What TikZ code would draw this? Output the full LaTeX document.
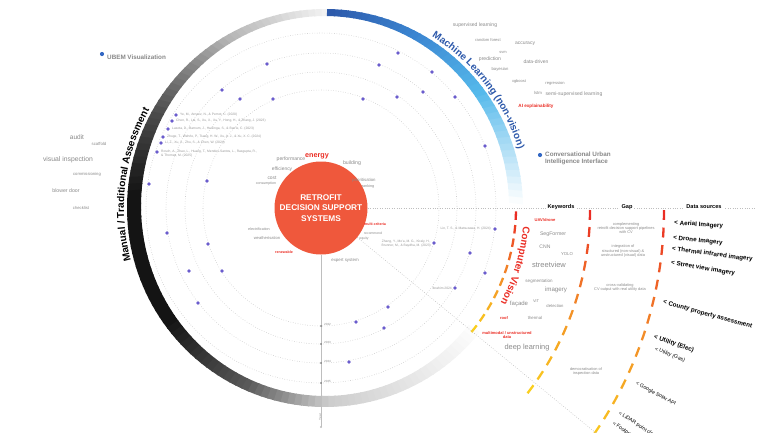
\documentclass[tikz,border=0pt]{standalone}
\usepackage{fontspec}
\setmainfont{Liberation Sans}
\usepackage{xcolor}
\definecolor{kwgray}{RGB}{138,138,138}
\definecolor{citegray}{RGB}{150,150,150}
\definecolor{appgray}{RGB}{135,135,135}
\definecolor{guidegray}{RGB}{190,190,190}
\definecolor{ringgray}{RGB}{195,195,195}
\definecolor{rdsred}{RGB}{239,88,60}
\definecolor{cvred}{RGB}{234,45,36}
\definecolor{cvorange}{RGB}{242,140,40}
\definecolor{cvyellow}{RGB}{250,206,30}
\definecolor{mlblue}{RGB}{44,88,170}
\definecolor{mlmid}{RGB}{60,135,210}
\definecolor{mlcyan}{RGB}{85,185,235}
\definecolor{pubdot}{RGB}{106,92,205}
\definecolor{appdot}{RGB}{52,104,196}
\usetikzlibrary{calc}
\usetikzlibrary{decorations.text}

\newcommand\fsz[2]{\fontsize{#1}{#2}\selectfont}

\begin{document}
\begin{tikzpicture}[x=1pt,y=-1pt,
    kw/.style={inner sep=0pt,text=kwgray,font=\fsz{#1}{#1}},
    kwhot/.style={inner sep=0pt,text=cvred,font=\bfseries\fsz{#1}{#1}},
    gaptext/.style={inner sep=0pt,text=kwgray,align=center,font=\fsz{3.9}{4.4}},
    colhead/.style={fill=white,inner xsep=2pt,inner ysep=1pt,font=\bfseries\fsz{5.6}{6}},
    source/.style={inner sep=0pt,anchor=west,font=\bfseries\fsz{6.3}{7}},
    sourcelt/.style={inner sep=0pt,anchor=west,font=\fsz{5.2}{6}},
    cite/.style={inner sep=0pt,text=citegray,align=left,font=\fsz{3.3}{3.9}},
    pub/.style={circle,fill=pubdot,inner sep=0pt,minimum size=3.6pt},
    app/.style={circle,fill=appdot,inner sep=0pt,minimum size=4.2pt},
    apptext/.style={inner sep=0pt,anchor=west,text=appgray,align=left,font=\bfseries\fsz{6.3}{7.3}},
    ringline/.style={draw=ringgray,line width=0.55pt,dash pattern=on 0.55pt off 1.9pt},
    guide/.style={draw=guidegray,line width=0.45pt},
    guidedot/.style={draw=guidegray,line width=0.5pt,dash pattern=on 0.8pt off 1.6pt}
  ]
  \clip (0,0) rectangle (768,432);
  \useasboundingbox (0,0) rectangle (768,432);

  \coordinate (c) at (321,208);

  % outer ring: grey (manual) and blue (ML) parts
  \foreach \a in {89,91,...,319}{
    \pgfmathsetmacro\k{(\a<120) ? 5+25*(\a-89)/31 : ((\a<150) ? 30+40*(\a-120)/30 : ((\a<175) ? 70+22*(\a-150)/25 : ((\a<215) ? 92 : ((\a<245) ? 92-27*(\a-215)/30 : ((\a<270) ? 65-45*(\a-245)/25 : ((\a<295) ? 20-10*(\a-270)/25 : 10-9*(\a-295)/25))))))}
    \fill[fill=black!\k!white] ({325+198*cos(\a)},{208-199*sin(\a)}) -- ({325+198*cos(\a+2.4)},{208-199*sin(\a+2.4)})
      -- ({325+184*cos(\a+2.4)},{206-190*sin(\a+2.4)}) -- ({325+184*cos(\a)},{206-190*sin(\a)}) -- cycle;
  }
  \foreach \a in {1,3,...,87}{
    \ifnum\a<35 \pgfmathsetmacro\p{100*\a/35}\def\bc{mlcyan!\p!white}%
    \else\ifnum\a<60 \pgfmathsetmacro\p{100*(\a-35)/25}\def\bc{mlmid!\p!mlcyan}%
    \else \pgfmathsetmacro\p{100*(\a-60)/28}\def\bc{mlblue!\p!mlmid}\fi\fi
    \fill[fill=\bc] ({325+198*cos(\a)},{208-199*sin(\a)}) -- ({325+198*cos(\a+2.4)},{208-199*sin(\a+2.4)})
      -- ({325+184*cos(\a+2.4)},{206-190*sin(\a+2.4)}) -- ({325+184*cos(\a)},{206-190*sin(\a)}) -- cycle;
  }

  % dashed CV arcs: ring, gap, data sources
  \foreach \cx/\cy/\r/\st/\n/\per/\len in {321/208/195/1/9/4/2.5, 290/210/300/0/11/3.25/1.9, 270/210/394/0/14/2.55/1.45}{
    \foreach \i in {0,...,\n}{
      \pgfmathsetmacro\s{\st+\per*\i}
      \pgfmathsetmacro\f{\i/\n}
      \ifdim\f pt<0.5pt \pgfmathsetmacro\p{200*\f}\def\dc{cvorange!\p!cvred}%
      \else \pgfmathsetmacro\p{200*(\f-0.5)}\def\dc{cvyellow!\p!cvorange}\fi
      \draw[color=\dc,line width=2.3pt] ({\cx+\r*cos(\s)},{\cy+\r*sin(\s)}) arc[start angle=\s,end angle=\s+\len,radius=\r];
    }
  }

  % dotted rings
  \foreach \r in {118,136,155,175}
    \draw[ringline] (c) circle[radius=\r];

  \node[circle,fill=rdsred,minimum size=93pt,inner sep=0pt,text=white,align=center,
    font=\bfseries\fsz{8.3}{10.3}] (rds) at (c) {RETROFIT\\DECISION SUPPORT\\SYSTEMS};

  % guide lines
  \coordinate (timeend) at (321,427);
  \coordinate (headend) at (756,208);
  \coordinate (diagend) at ($(c)+(39.3:420)$);
  \draw[guide] (rds.south) -- (timeend);
  \fill[guidegray] (timeend) circle[radius=1.2];
  \draw[guidedot] (rds.east) -- (headend);
  \draw[guidedot] (rds.-39.3) -- (diagend);

  % arc titles
  \path[decorate,decoration={text along path,text align=center,
    text={|\bfseries\fsz{10}{10}\color{black}|Manual / Traditional Assessment}}]
    ({325+201*cos(203)},{208-201*sin(203)}) arc[start angle=-203,end angle=-143,radius=201];
  \path[decorate,decoration={text along path,text align=center,
    text={|\bfseries\fsz{10}{10}\color{mlblue}|Machine Learning (non-vision)}}]
    ({325+202*cos(60)},{208-202*sin(60)}) arc[start angle=-60,end angle=-15,radius=202];
  \path[decorate,decoration={text along path,text align=center,
    text={|\bfseries\fsz{10}{10}\color{cvred}|Computer Vision}}]
    ({321+203*cos(2)},{208+203*sin(2)}) arc[start angle=2,end angle=31,radius=203];

  % applications
  \node[app] (ubemdot) at (102,54) {};
  \node[apptext] (ubem) at (107,57) {UBEM Visualization};
  \node[app] (cuiidot) at (540,155) {};
  \node[apptext] (cuii) at (545,158.7) {Conversational Urban\\Intelligence Interface};

  % manual keywords
  \foreach \x/\y/\s/\t [count=\i] in {77/137/6.5/audit, 99/144/4.3/scaffold,
      68/160/6.8/visual inspection, 87/174/4.2/commissioning, 66/191/5.2/blower door,
      81/208/4.2/checklist}
    \node[kw=\s] (man\i) at (\x,\y) {\t};

  % ML keywords
  \foreach \x/\y/\s/\t [count=\i] in {475/25/5.1/supervised learning, 488/40/4.1/random forest,
      525/44/5/accuracy, 503/52/4/svm, 490/59/5.1/prediction, 536/62/5/data-driven,
      500/69/4.2/bayesian, 519/81/4/xgboost, 555/83/4.1/regression, 538/93/4.3/lstm,
      574/94/5.1/semi-supervised learning}
    \node[kw=\s] (ml\i) at (\x,\y) {\t};
  \node[kwhot=4.6] (mlxai) at (536,106) {AI explainability};

  % retrofit keywords
  \node[kwhot=7.2] (energy) at (317,156) {energy};
  \foreach \x/\y/\s/\t [count=\i] in {291/159/5.1/performance, 352/163/5.2/building,
      282/169/4.9/efficiency, 272/178/4.9/cost, 266/184/3.6/consumption,
      364/180/4.3/prioritisation, 368/187/3.8/ranking, 259/229/3.7/electrification,
      267/238/4.1/weatherisation, 373/233/3.4/recommend, 364/239/3.4/equity,
      345/261/4.4/expert system}
    \node[kw=\s] (rk\i) at (\x,\y) {\t};
  \node[kwhot=3.6] (renew) at (284,252) {renewable};
  \node[kwhot=3.6] (mcda) at (375,224) {multi-criteria};

  % CV keywords
  \node[kwhot=4.1] (uav) at (545,220) {UAV/drone};
  \foreach \x/\y/\s/\t [count=\i] in {553/234/5.2/SegFormer, 545/247/5.1/CNN, 567/254/4.3/YOLO,
      549/265/7.5/streetview, 539/281/4.5/segmentation, 556/290/6.2/imagery,
      519/304/6/façade, 536/301/4/ViT, 555/306/4.2/detection, 535/318/4.3/thermal/infrared,
      527/348/7.4/deep learning}
    \node[kw=\s] (cv\i) at (\x,\y) {\t};
  \node[kwhot=4] (roof) at (504,318) {roof};
  \node[kwhot=4,align=center] (multi) at (507,335) {multimodal / unstructured\\data};

  % column heads
  \node[colhead] (hkey) at (561,207) {Keywords};
  \node[colhead] (hgap) at (627,207) {Gap};
  \node[colhead] (hdata) at (704,207) {Data sources};

  % gaps
  \node[gaptext] (gap1) at (626,228) {complementing\\retrofit decision support pipelines\\with CV};
  \node[gaptext] (gap2) at (623,251) {integration of\\structured (non-visual) \&\\unstructured (visual) data};
  \node[gaptext] (gap3) at (620,287.5) {cross-validating\\CV output with real utility data};
  \node[gaptext] (gap4) at (586,371.5) {democratisation of\\inspection data};

  % data sources
  \node[source,rotate=-4] (src1) at (674,223) {< Aerial Imagery};
  \node[source,rotate=-6] (src2) at (673,238) {< Drone Imagery};
  \node[source,rotate=-7.5] (src3) at (672,249) {< Thermal infrared imagery};
  \node[source,rotate=-9.5] (src4) at (671,263) {< Street view imagery};
  \node[source,rotate=-15.7] (src5) at (663,302) {< County property assessment};
  \node[source,rotate=-19] (src6) at (654,337) {< Utility (Elec)};
  \node[sourcelt,rotate=-21] (src7) at (655,349) {< Utility (Gas)};
  \node[sourcelt,rotate=-28.5] (src8) at (636,383) {< Google Solar API};
  \node[sourcelt,rotate=-33] (src9) at (619,413) {< LiDAR point cloud};
  \node[sourcelt,rotate=-35] (src10) at (613,423) {< Footprints};

  % references on the rings
  \foreach \x/\y/\t [count=\i] in {
      176/115/{Ye, M., Arnaez, N., \& Pernot, C. (2020)},
      172/121/{Chen, R., Lai, S., Xu, X., Xu, Y., Hong, H., \& Zhang, J. (2023)},
      168/129/{Lasota, D., Barnum, J., Heslinga, S., \& Barrie, C. (2023)},
      163/137/{Zhuge, T., Wehrle, P., Tsang, H. W., Xu, A. J., \& Xu, X. C. (2024)},
      161/143/{Li, Z., Xu, X., Zhu, S., \& Chen, W. (2024)},
      157/152/{Rosch, A., Zhao, L., Huang, T., Mendes-Santos, L., Rasgupta, R.,\\\& Thomas, M. (2025)}}
    {
      \node[pub] (lp\i) at (\x,\y) {};
      \node[cite,anchor=north west] (lc\i) at (\x+4,\y-1.8) {\t};
    }
  \node[pub] (rp1) at (434,243) {};
  \node[cite,align=center,anchor=east] (rc1) at (431,244) {Zhang, Y., Mo'a, M. G., Kiraly, H.,\\Brunner, M., \& Baydha, M. (2023)};
  \node[pub] (rp2) at (495,229) {};
  \node[cite,anchor=east] (rc2) at (491,229) {Lin, T. S., \& Matsuzawa, H. (2024)};
  \node[pub] (rp3) at (455,288) {};
  \node[cite,anchor=east] (rc3) at (452,288) {Ibrahim 2024};

  \foreach \x/\y [count=\i] in {267/64, 398/53, 379/65, 222/90, 240/99, 273/99, 363/99,
      397/97, 423/92, 432/72, 455/97, 485/146, 149/184, 207/181, 167/233, 208/244,
      189/271, 222/271, 198/303, 470/253, 485/273, 388/307, 356/322, 384/328, 349/362}
    \node[pub] (d\i) at (\x,\y) {};

  % year ticks
  \foreach \r/\yr [count=\i] in {118/2022, 136/2023, 155/2024, 175/2025}{
    \node[circle,fill=black!60,inner sep=0pt,minimum size=1.8pt] (tick\i) at (321,208+\r) {};
    \node[kw=3,anchor=west] (yr\i) at (324,206.5+\r) {\yr};
  }
  \node[kw=3,rotate=90] (yearlbl) at (320,417) {Year};
\end{tikzpicture}
\end{document}
